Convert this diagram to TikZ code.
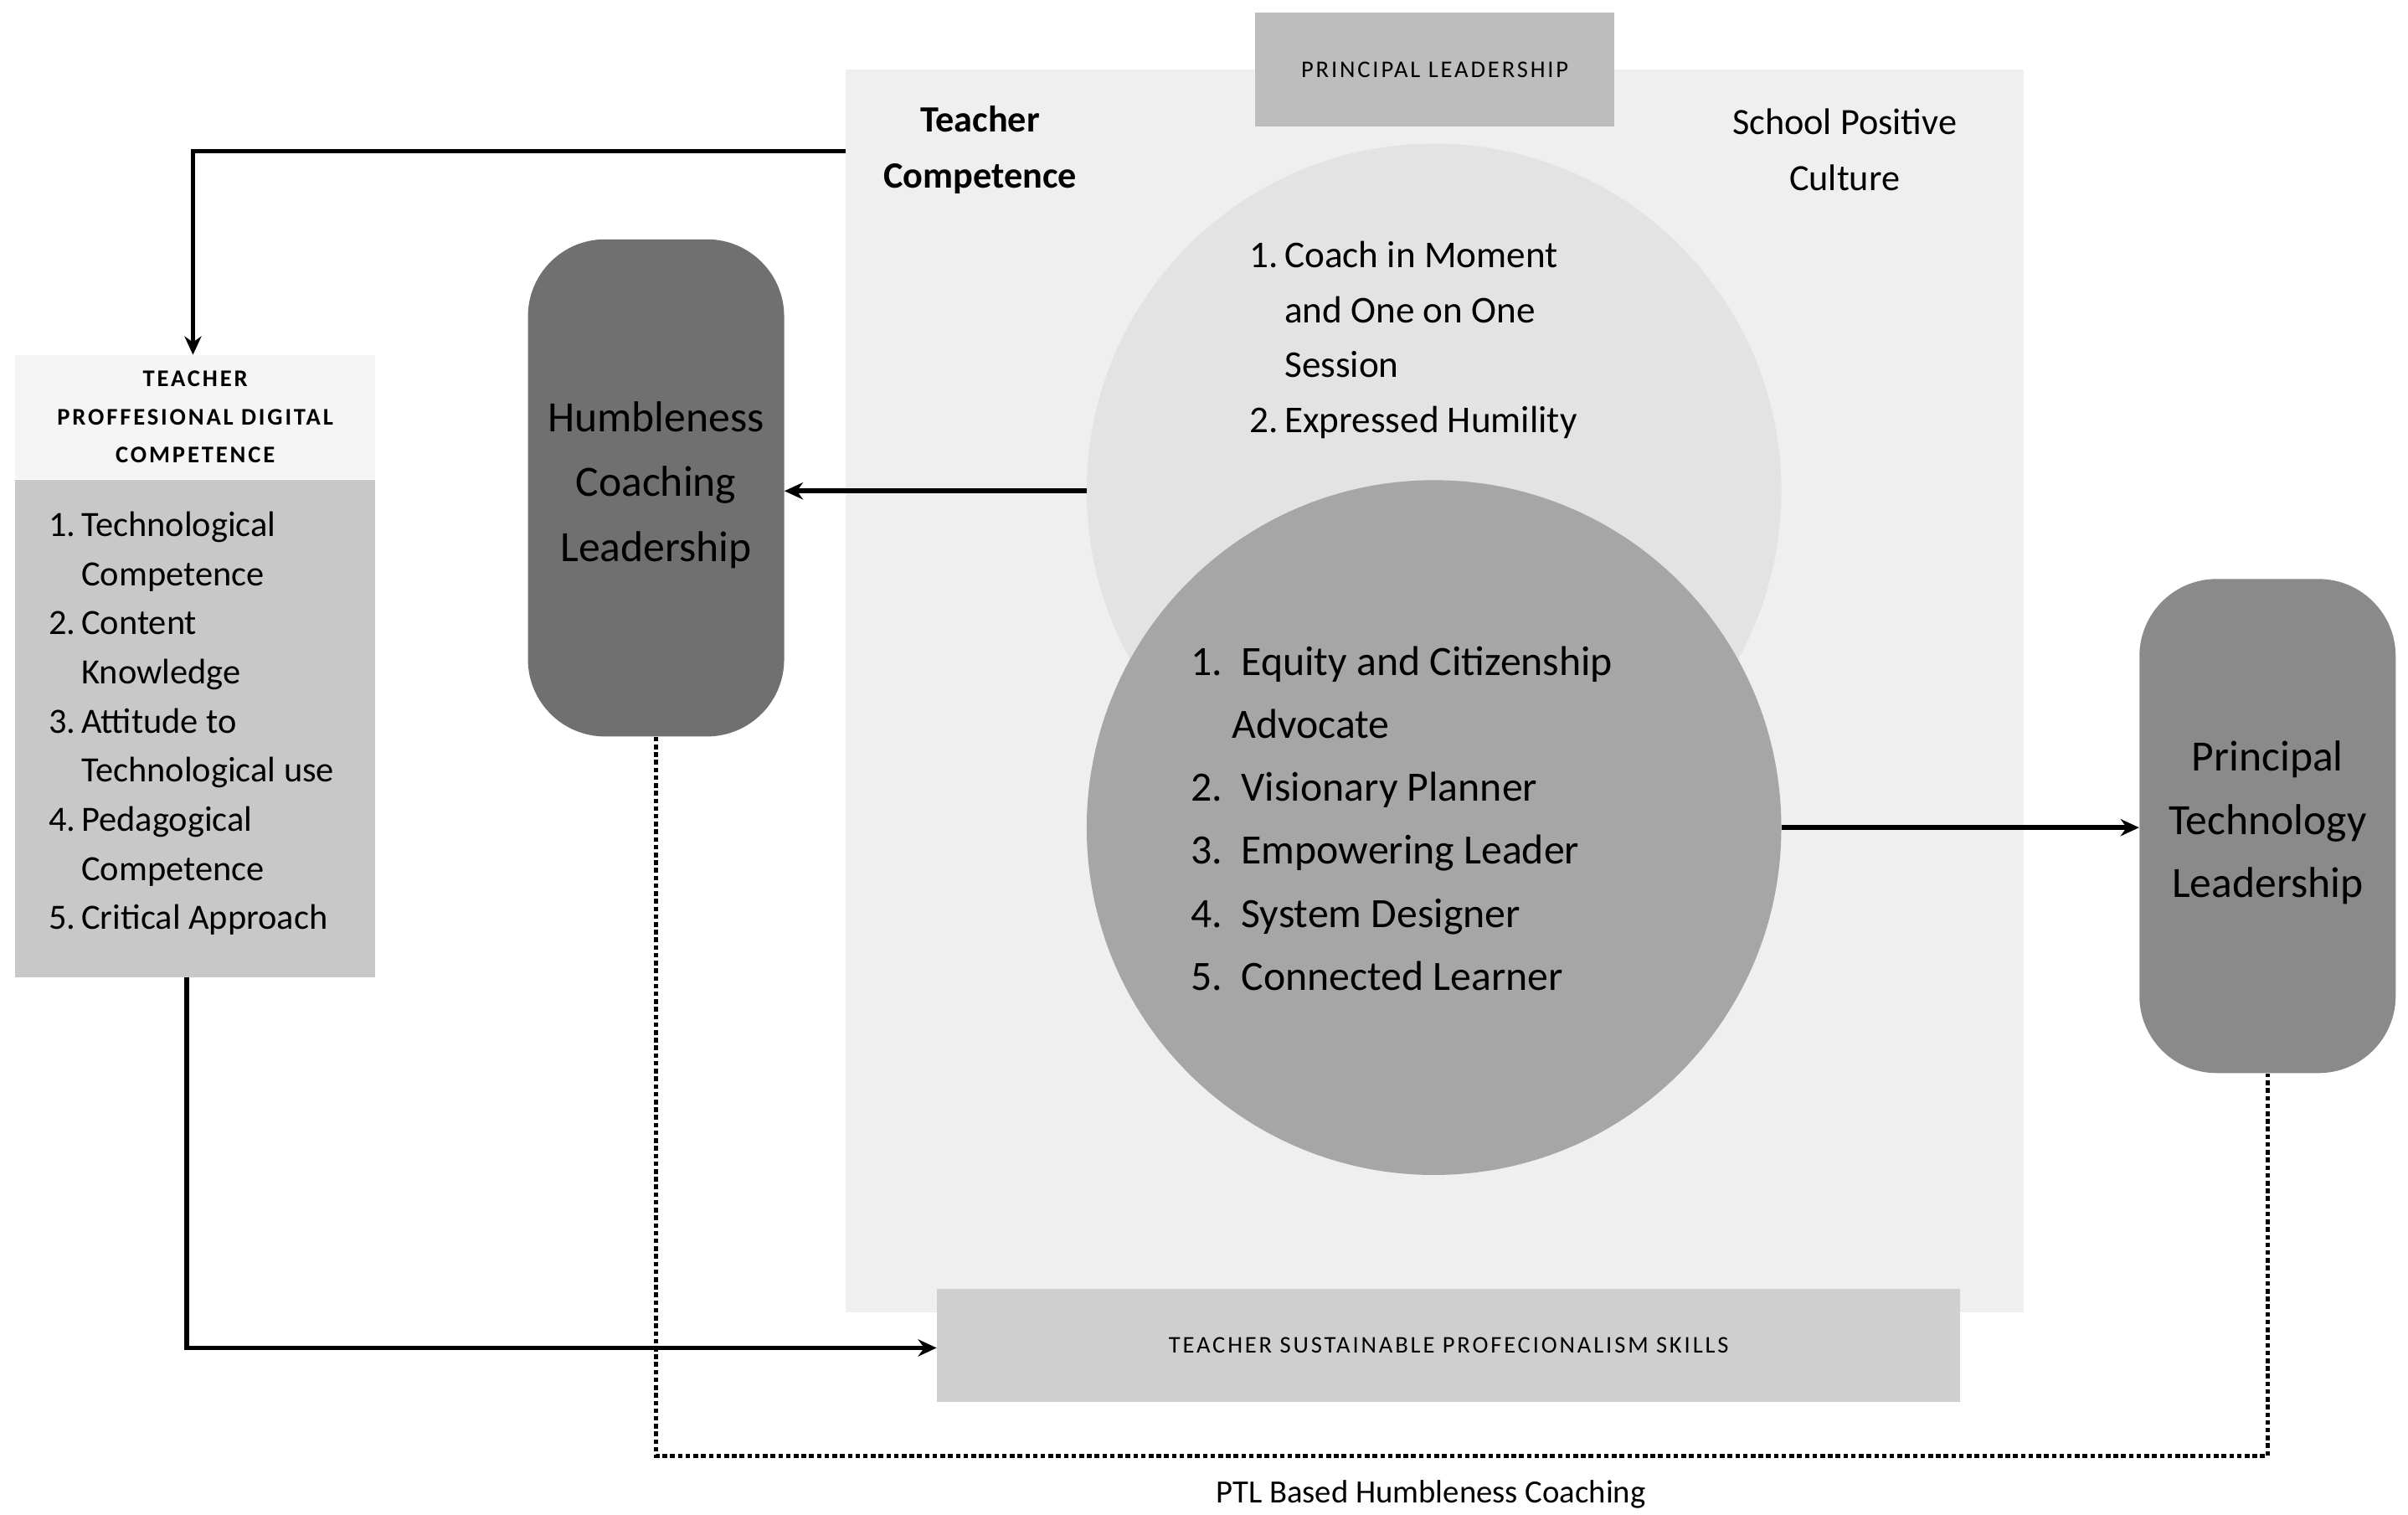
\documentclass[tikz,border=0pt]{standalone}
\usepackage{fontspec}
\setmainfont{Carlito}
\usetikzlibrary{arrows.meta}
\begin{document}
\begin{tikzpicture}[x=1pt,y=-1pt,
  conn/.style={line width=3pt,-{Stealth[length=12pt,width=11pt]}},
  capt/.style={font=\fontsize{15.5}{17}\selectfont\addfontfeature{LetterSpace=10}},
  big/.style={font=\fontsize{24}{42}\selectfont,align=center},
  lst/.style={font=\fontsize{22}{40}\selectfont,align=left}]
\useasboundingbox[fill=white] (0,0) rectangle (1560,981);
\fill[fill={rgb,255:red,239;green,239;blue,239}] (548,45) rectangle (1311,850);
\node[fill={rgb,255:red,189;green,189;blue,189},minimum width=233pt,minimum height=74pt,capt] (pl) at (929.5,45) {PRINCIPAL LEADERSHIP};
\node[font=\bfseries\fontsize{24}{36}\selectfont,align=center] (tc) at (635,97) {Teacher\\Competence};
\node[font=\fontsize{24}{36}\selectfont,align=center] (spc) at (1195,97) {School Positive\\Culture};
\node[circle,fill={rgb,255:red,227;green,227;blue,227},minimum size=450pt] (c1) at (929,318) {};
\node[circle,fill={rgb,255:red,166;green,166;blue,166},minimum size=450pt] (c2) at (929,536) {};
\node[lst,font=\fontsize{24.5}{35.5}\selectfont,anchor=north west] (l1) at (806,153) {1.\,Coach in Moment\\\phantom{1.\,}and One on One\\\phantom{1.\,}Session\\2.\,Expressed Humility};
\node[lst,font=\fontsize{27}{40.8}\selectfont,anchor=north west] (l2) at (768,415) {1.\ \ Equity and Citizenship\\\phantom{1.\ }Advocate\\2.\ \ Visionary Planner\\3.\ \ Empowering Leader\\4.\ \ System Designer\\5.\ \ Connected Learner};
\node[rounded corners=50pt,fill={rgb,255:red,112;green,112;blue,112},minimum width=166pt,minimum height=322pt] (hc) at (425,316) {};
\node[big,font=\fontsize{28}{42}\selectfont] at (425,314) {Humbleness\\Coaching\\Leadership};
\node[rounded corners=50pt,fill={rgb,255:red,138;green,138;blue,138},minimum width=166pt,minimum height=320pt] (ptl) at (1469,535) {};
\node[big,font=\fontsize{28}{41}\selectfont] at (1469,533) {Principal\\Technology\\Leadership};
\node[fill={rgb,255:red,245;green,245;blue,245},minimum width=233pt,minimum height=80pt,align=center,font=\bfseries\fontsize{15.5}{24.5}\selectfont\addfontfeature{LetterSpace=10}] (tt) at (126.5,270) {TEACHER\\PROFFESIONAL DIGITAL\\COMPETENCE};
\node[fill={rgb,255:red,200;green,200;blue,200},minimum width=233pt,minimum height=322pt] (tb) at (126.5,472) {};
\node[lst,font=\fontsize{23}{31.8}\selectfont,anchor=north west] at (28,328) {1.\,Technological\\\phantom{1.\,}Competence\\2.\,Content\\\phantom{1.\,}Knowledge\\3.\,Attitude to\\\phantom{1.\,}Technological use\\4.\,Pedagogical\\\phantom{1.\,}Competence\\5.\,Critical Approach};
\node[fill={rgb,255:red,207;green,207;blue,207},minimum width=663pt,minimum height=73pt,capt] (ts) at (938.5,871.5) {TEACHER SUSTAINABLE PROFECIONALISM SKILLS};
\coordinate (a0) at (548,98);
\draw[conn] (a0) -- (125,98) -- (tt.north-|125,0);
\draw[conn] (c1.west) -- (hc.east|-c1.west);
\draw[conn] (c2.east) -- (ptl.west|-c2.east);
\draw[conn] (tb.south-|121,0) -- (121,873) -- (ts.west|-0,873);
\draw[line width=3pt,dotted] (hc.south) -- (425,943) -- (1469,943) -- (ptl.south);
\node[font=\fontsize{21}{22}\selectfont] (lab) at (927,968) {PTL Based Humbleness Coaching};
\end{tikzpicture}
\end{document}
